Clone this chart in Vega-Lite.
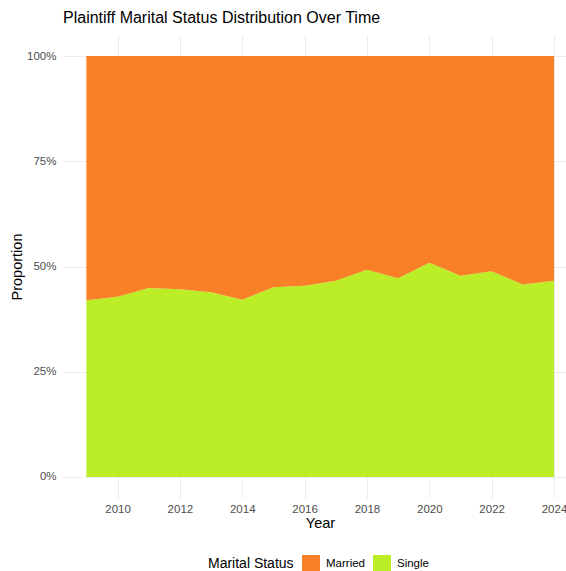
{
  "$schema": "https://vega.github.io/schema/vega-lite/v6.json",
  "autosize": "none",
  "width": 503,
  "height": 463,
  "padding": {"left": 63, "top": 35, "right": 0, "bottom": 73},
  "background": "white",
  "config": {
    "font": "Liberation Sans",
    "view": {"stroke": null},
    "axis": {"gridColor": "#EBEBEB", "gridWidth": 1, "domain": false, "ticks": false}
  },
  "title": {
    "text": "Plaintiff Marital Status Distribution Over Time",
    "anchor": "start",
    "frame": "group",
    "fontSize": 16,
    "fontWeight": "normal",
    "color": "#000000",
    "offset": 9
  },
  "data": {
    "values": [
      {"Year": 2009, "Status": "Single", "Proportion": 0.420},
      {"Year": 2010, "Status": "Single", "Proportion": 0.428},
      {"Year": 2011, "Status": "Single", "Proportion": 0.449},
      {"Year": 2012, "Status": "Single", "Proportion": 0.446},
      {"Year": 2013, "Status": "Single", "Proportion": 0.439},
      {"Year": 2014, "Status": "Single", "Proportion": 0.421},
      {"Year": 2015, "Status": "Single", "Proportion": 0.451},
      {"Year": 2016, "Status": "Single", "Proportion": 0.454},
      {"Year": 2017, "Status": "Single", "Proportion": 0.466},
      {"Year": 2018, "Status": "Single", "Proportion": 0.492},
      {"Year": 2019, "Status": "Single", "Proportion": 0.472},
      {"Year": 2020, "Status": "Single", "Proportion": 0.509},
      {"Year": 2021, "Status": "Single", "Proportion": 0.478},
      {"Year": 2022, "Status": "Single", "Proportion": 0.489},
      {"Year": 2023, "Status": "Single", "Proportion": 0.457},
      {"Year": 2024, "Status": "Single", "Proportion": 0.466},
      {"Year": 2009, "Status": "Married", "Proportion": 0.580},
      {"Year": 2010, "Status": "Married", "Proportion": 0.572},
      {"Year": 2011, "Status": "Married", "Proportion": 0.551},
      {"Year": 2012, "Status": "Married", "Proportion": 0.554},
      {"Year": 2013, "Status": "Married", "Proportion": 0.561},
      {"Year": 2014, "Status": "Married", "Proportion": 0.579},
      {"Year": 2015, "Status": "Married", "Proportion": 0.549},
      {"Year": 2016, "Status": "Married", "Proportion": 0.546},
      {"Year": 2017, "Status": "Married", "Proportion": 0.534},
      {"Year": 2018, "Status": "Married", "Proportion": 0.508},
      {"Year": 2019, "Status": "Married", "Proportion": 0.528},
      {"Year": 2020, "Status": "Married", "Proportion": 0.491},
      {"Year": 2021, "Status": "Married", "Proportion": 0.522},
      {"Year": 2022, "Status": "Married", "Proportion": 0.511},
      {"Year": 2023, "Status": "Married", "Proportion": 0.543},
      {"Year": 2024, "Status": "Married", "Proportion": 0.534}
    ]
  },
  "mark": {"type": "area", "opacity": 0.9},
  "encoding": {
    "x": {
      "field": "Year",
      "type": "quantitative",
      "scale": {"domain": [2008.25, 2024.385], "nice": false, "zero": false},
      "axis": {
        "values": [2010, 2012, 2014, 2016, 2018, 2020, 2022, 2024],
        "format": "d",
        "labelFontSize": 11.5,
        "labelColor": "#4D4D4D",
        "labelPadding": 5,
        "labelFlush": false,
        "title": "Year",
        "titleFontSize": 14.5,
        "titleFontWeight": "normal",
        "titleColor": "#000000",
        "titleX": 257,
        "titleY": 25,
        "titleBaseline": "middle",
        "titleAlign": "center"
      }
    },
    "y": {
      "field": "Proportion",
      "type": "quantitative",
      "stack": "zero",
      "scale": {"domain": [-0.05, 1.05], "nice": false, "zero": false},
      "axis": {
        "values": [0, 0.25, 0.5, 0.75, 1],
        "format": ".0%",
        "labelFontSize": 11.5,
        "labelColor": "#4D4D4D",
        "labelPadding": 7,
        "title": "Proportion",
        "titleFontSize": 14.5,
        "titleFontWeight": "normal",
        "titleColor": "#000000",
        "titleAngle": 270,
        "titleX": -46,
        "titleY": 231.5,
        "titleBaseline": "middle",
        "titleAlign": "center"
      }
    },
    "color": {
      "field": "Status",
      "type": "nominal",
      "scale": {"domain": ["Married", "Single"], "range": ["#F9720F", "#B5EC10"]},
      "legend": {
        "title": "Marital Status",
        "orient": "none",
        "legendX": 145,
        "legendY": 520,
        "direction": "horizontal",
        "titleOrient": "left",
        "titleFontSize": 14,
        "titleFontWeight": "normal",
        "titleColor": "#000000",
        "titleBaseline": "middle",
        "titlePadding": 8,
        "labelFontSize": 11.5,
        "labelColor": "#000000",
        "labelOffset": 6,
        "symbolType": "square",
        "symbolSize": 324,
        "symbolStrokeWidth": 0,
        "symbolOpacity": 0.9,
        "columnPadding": 8
      }
    },
    "order": {"field": "Status", "sort": "descending"}
  }
}
